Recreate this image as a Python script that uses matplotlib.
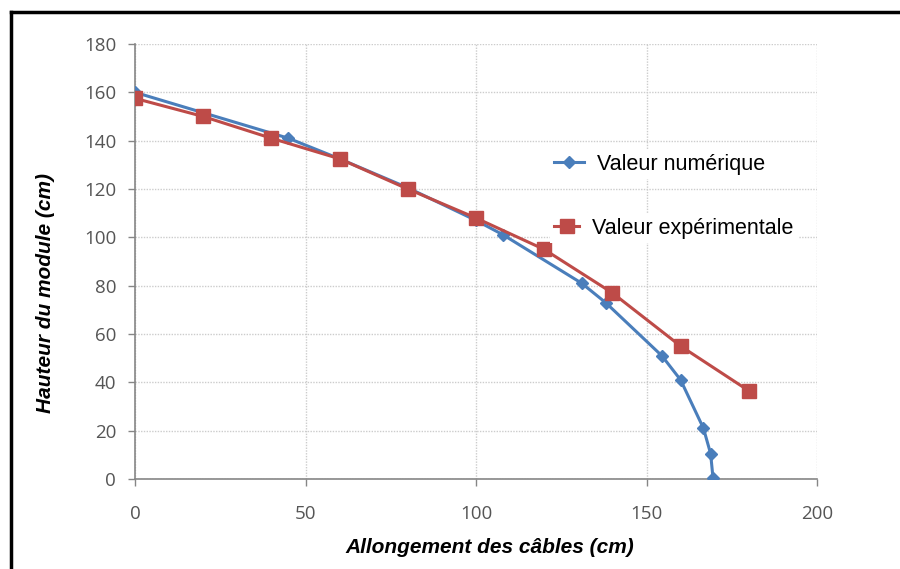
import matplotlib
matplotlib.use("Agg")
import matplotlib.pyplot as plt
from matplotlib.lines import Line2D

# Numerical model
num_x = [0, 45, 60, 80, 100, 108, 131, 138, 154.5, 160, 166.7, 168.8, 169.5]
num_y = [160, 141, 132.5, 120.5, 107, 101, 81, 73, 51, 41, 21, 10.5, 0.5]

# Experimental measurements
exp_x = [0, 20, 40, 60, 80, 100, 120, 140, 160, 180]
exp_y = [157.5, 150, 141, 132.5, 120, 108, 95, 77, 55, 36.5]

x_ticks = [0, 50, 100, 150, 200]
y_ticks = [0, 20, 40, 60, 80, 100, 120, 140, 160, 180]

blue = "#4a7ebb"
red = "#be4b48"
grid_c = "#cccccc"
axis_c = "#868686"

fig = plt.figure(figsize=(9, 5.69), dpi=100)
ax = fig.add_axes([135 / 900, 90 / 569, (817 - 135) / 900, (479 - 44) / 569])

ax.plot(num_x, num_y, color=blue, lw=2.2, marker="D", ms=6,
        markerfacecolor=blue, markeredgecolor=blue, zorder=3)
ax.plot(exp_x, exp_y, color=red, lw=2.2, marker="s", ms=9.5,
        markerfacecolor=red, markeredgecolor=red, zorder=4)

ax.set_xlim(0, 200)
ax.set_ylim(0, 180)
ax.set_xticks(x_ticks)
ax.set_yticks(y_ticks)

tick_font = dict(family=["Open Sans", "DejaVu Sans"], size=13.5, color="#555555")
ax.set_xticklabels([str(v) for v in x_ticks], **tick_font)
ax.set_yticklabels([str(v) for v in y_ticks], **tick_font)
ax.tick_params(axis="both", length=5, width=1, color=axis_c)
ax.tick_params(axis="x", pad=14)
ax.tick_params(axis="y", pad=8.5)

ax.grid(True, color=grid_c, lw=1, ls=(0, (1, 1)))
for s in ["top", "right"]:
    ax.spines[s].set_visible(False)
for s in ["left", "bottom"]:
    ax.spines[s].set_color(axis_c)
    ax.spines[s].set_linewidth(1.2)

label_font = dict(family=["Liberation Sans", "DejaVu Sans"], size=15,
                  weight="bold", style="italic", color="black")
ax.set_xlabel("Allongement des câbles (cm)", **label_font)
ax.set_ylabel("Hauteur du module (cm)", **label_font)
ax.xaxis.set_label_coords(0.52, -0.135)
ax.yaxis.set_label_coords(-0.117, 0.428)

# Legend entries, each on its own white patch
leg_font = {"family": ["Liberation Sans", "DejaVu Sans"], "size": 15.5}
h1 = Line2D([], [], color=blue, lw=2.2, marker="D", ms=6)
h2 = Line2D([], [], color=red, lw=2.2, marker="s", ms=9.5)


def white_legend(handle, text, anchor, hlen):
    leg = ax.legend([handle], [text], loc="center left", bbox_to_anchor=anchor,
                    frameon=True, prop=leg_font, handlelength=hlen,
                    handletextpad=0.6, borderpad=0.2, borderaxespad=0,
                    fancybox=False)
    frame = leg.get_frame()
    frame.set_edgecolor("none")
    frame.set_facecolor("white")
    frame.set_alpha(1)
    return leg


leg1 = white_legend(h1, "Valeur numérique", (0.6085, 0.724), 1.4)
ax.add_artist(leg1)
leg2 = white_legend(h2, "Valeur expérimentale", (0.6085, 0.577), 1.16)

# Outer frame (top and left edges)
fig.add_artist(Line2D([11 / 900, 1.0], [1 - 12 / 569, 1 - 12 / 569],
                      transform=fig.transFigure, color="black", lw=2.5))
fig.add_artist(Line2D([11 / 900, 11 / 900], [0, 1 - 12 / 569],
                      transform=fig.transFigure, color="black", lw=2.5))

fig.savefig("out.png", dpi=100)
